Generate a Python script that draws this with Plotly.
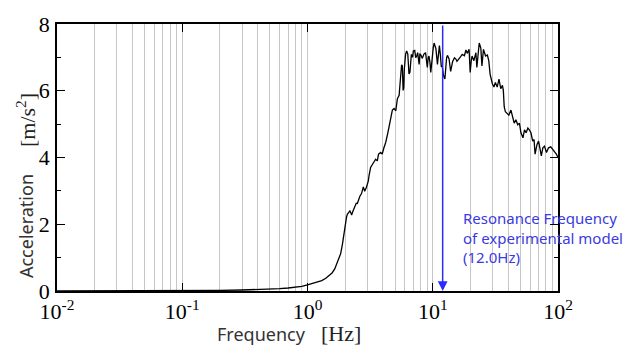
import plotly.graph_objects as go
import math

# ---- data ----
freq = [0.01, 0.02, 0.05, 0.1, 0.2, 0.3, 0.4, 0.5, 0.6, 0.7, 0.8, 0.9, 1.0, 1.1, 1.2, 1.3, 1.4, 1.5,
        1.57, 1.65, 1.73, 1.8, 1.84, 1.9, 1.93, 1.97, 2.01, 2.05, 2.08, 2.13, 2.18, 2.22, 2.25, 2.3,
        2.35, 2.4, 2.45, 2.5, 2.54, 2.62, 2.7, 2.75, 2.79, 2.83, 2.86, 2.95, 3.01, 3.06, 3.1, 3.15,
        3.19, 3.37, 3.5, 3.61, 3.69, 3.84, 3.95, 4.08, 4.21, 4.38, 4.5, 4.61, 4.76, 4.91, 5.07, 5.22,
        5.39, 5.48, 5.55, 5.64, 5.72, 5.8, 5.87, 5.93, 6.07, 6.19, 6.32, 6.46, 6.57, 6.75, 6.9, 7.0,
        7.18, 7.31, 7.45, 7.58, 7.78, 7.9, 8.0, 8.26, 8.5, 8.76, 8.9, 9.05, 9.2, 9.33, 9.5, 9.64,
        9.8, 9.94, 10.1, 10.25, 10.6, 10.9, 11.1, 11.3, 11.5, 11.7, 11.9, 12.2, 12.5, 12.7, 12.9,
        13.1, 13.5, 13.9, 14.4, 14.9, 15.3, 15.6, 15.9, 16.4, 16.7, 17.2, 17.9, 18.4, 18.9, 19.5,
        19.9, 20.3, 20.6, 21.3, 22.1, 22.5, 23.0, 23.5, 24.2, 24.7, 25.4, 26.4, 27.3, 28.0, 28.7,
        29.3, 29.9, 30.8, 31.6, 32.7, 33.8, 34.9, 36.0, 36.6, 37.2, 38.0, 39.6, 40.5, 42.1, 43.0,
        44.7, 46.1, 47.7, 49.2, 50.6, 52.5, 54.0, 55.6, 57.5, 59.0, 60.8, 62.8, 64.4, 65.6, 68.0,
        70.0, 71.8, 73.6, 75.7, 78.0, 80.9, 84.0, 87.5, 93.5, 97.0, 100.0]
accel = [0.0, 0.001, 0.004, 0.008, 0.018, 0.03, 0.04, 0.055, 0.07, 0.09, 0.11, 0.14, 0.18, 0.22, 0.26, 0.31, 0.38, 0.46,
         0.54, 0.66, 0.85, 1.0, 1.12, 1.4, 1.6, 1.85, 2.09, 2.22, 2.30, 2.36, 2.40, 2.34, 2.28, 2.38,
         2.47, 2.56, 2.63, 2.62, 2.70, 2.84, 2.92, 3.02, 3.12, 3.05, 2.99, 3.10, 3.18, 3.30, 3.46, 3.62,
         3.70, 3.85, 3.95, 3.90, 4.10, 4.15, 4.10, 4.30, 4.45, 4.74, 4.95, 5.13, 5.42, 5.47, 5.40, 5.76,
         5.86, 6.20, 6.50, 6.78, 6.74, 6.01, 6.10, 6.65, 7.09, 7.19, 7.10, 6.50, 6.55, 7.09, 7.00, 7.19,
         7.21, 6.99, 7.04, 7.14, 6.79, 7.10, 7.09, 6.97, 7.10, 7.14, 6.95, 6.70, 7.00, 7.04, 6.85, 6.55,
         6.80, 7.09, 7.30, 7.43, 7.26, 6.79, 7.15, 7.35, 7.09, 6.72, 6.74, 6.45, 6.35, 6.90, 6.99,
         7.06, 6.95, 6.58, 6.87, 6.99, 6.95, 6.88, 6.93, 6.99, 7.02, 7.09, 7.05, 7.22, 7.12, 7.24,
         6.55, 6.90, 7.04, 6.90, 7.14, 6.70, 7.10, 7.43, 7.28, 6.74, 7.24, 7.04, 7.07, 6.90, 6.50,
         6.30, 6.21, 6.11, 6.25, 6.11, 6.35, 6.06, 6.16, 6.01, 5.52, 5.37, 5.32, 5.27, 5.42, 5.27,
         5.03, 5.13, 4.98, 5.03, 4.74, 4.59, 4.83, 4.74, 4.88, 4.83, 4.74, 4.49, 4.54, 4.10, 4.39,
         4.49, 4.29, 4.05, 4.29, 4.34, 4.15, 4.29, 4.32, 4.20, 4.10, 4.00]

x_tickvals = [0.01, 0.1, 1, 10, 100]
x_ticktext = ["10<sup>-2</sup>", "10<sup>-1</sup>", "10<sup>0</sup>", "10<sup>1</sup>", "10<sup>2</sup>"]
y_tickvals = [0, 2, 4, 6, 8]
resonance_hz = 12.0
note_lines = ["Resonance Frequency", "of experimental model", "(12.0Hz)"]

SERIF = "Liberation Serif"
SANS = "Noto Sans"

fig = go.Figure()
fig.add_trace(go.Scatter(x=freq, y=accel, mode="lines",
                         line=dict(color="black", width=1.3), showlegend=False))

fig.update_layout(
    width=635, height=349,
    margin=dict(l=57, r=77, t=19, b=58),
    paper_bgcolor="white", plot_bgcolor="white",
    font=dict(family=SERIF),
    xaxis=dict(type="log", range=[-2, 2],
               tickvals=x_tickvals, ticktext=x_ticktext,
               ticks="inside", ticklen=8, tickwidth=1.2, tickcolor="black",
               showline=True, linecolor="black", linewidth=1.5, mirror="ticks",
               showgrid=True, gridcolor="#c6c6c6", gridwidth=1.3,
               minor=dict(dtick="D1", showgrid=True, gridcolor="#c6c6c6", gridwidth=1.3, ticks=""),
               tickfont=dict(family=SERIF, size=22, color="black"),
               zeroline=False),
    yaxis=dict(range=[0, 8], tickvals=y_tickvals,
               ticks="inside", ticklen=8, tickwidth=1.2, tickcolor="black",
               showline=True, linecolor="black", linewidth=1.5, mirror="ticks",
               showgrid=False, zeroline=False,
               minor=dict(dtick=1, ticks="inside", ticklen=4, tickcolor="black", tickwidth=1.2),
               tickfont=dict(family=SERIF, size=22, color="black"),
               ticklabelstandoff=1),
)

# resonance arrow
lx = math.log10(resonance_hz)
fig.add_annotation(x=lx, y=0, ax=lx, ay=8, xref="x", yref="y", axref="x", ayref="y",
                   showarrow=True, arrowhead=2, arrowsize=1.3, arrowwidth=1.5,
                   arrowcolor="#2b2bff", text="")
fig.add_annotation(x=1.225, y=1.6, xref="x", yref="y", xanchor="left", yanchor="middle",
                   align="left", showarrow=False,
                   text="<br>".join(note_lines),
                   font=dict(family=SANS, size=15, color="#3a3ae0"))

# axis titles: sans word + serif unit, as separate annotations
fig.add_annotation(x=-0.062, y=0.243, xref="paper", yref="paper", textangle=-90,
                   showarrow=False, xanchor="center", yanchor="middle",
                   text="Acceleration",
                   font=dict(color="#333333", size=18, family=SANS))
fig.add_annotation(x=-0.062, y=0.64, xref="paper", yref="paper", textangle=-90,
                   showarrow=False, xanchor="center", yanchor="middle",
                   text="[m/s<sup>2</sup>]",
                   font=dict(color="#222222", size=22, family=SERIF))
fig.add_annotation(x=0.408, y=-0.16, xref="paper", yref="paper",
                   showarrow=False, xanchor="center", yanchor="middle",
                   text="Frequency",
                   font=dict(color="#333333", size=18, family=SANS))
fig.add_annotation(x=0.566, y=-0.16, xref="paper", yref="paper",
                   showarrow=False, xanchor="center", yanchor="middle",
                   text="[Hz]",
                   font=dict(color="#222222", size=22, family=SERIF))

fig.write_html("out.html")
